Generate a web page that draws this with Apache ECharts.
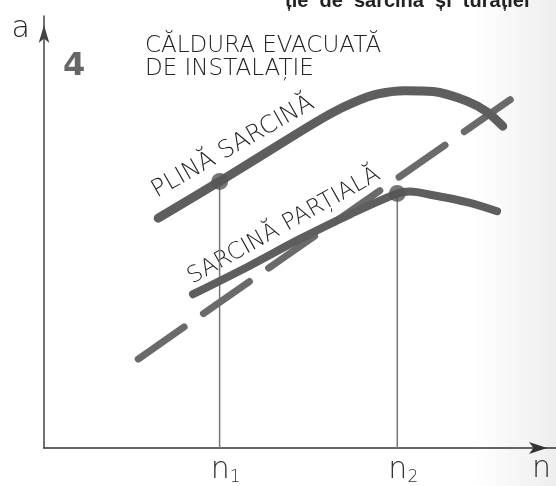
<!DOCTYPE html>
<html>
<head>
<meta charset="utf-8">
<script src="https://cdn.jsdelivr.net/npm/echarts@6/dist/echarts.min.js"></script>
<style>
  html, body { margin: 0; padding: 0; background: #fff; }
  #chart { width: 556px; height: 486px; }
</style>
</head>
<body>
<div id="chart"></div>
<script>
// curbele (unitati arbitrare 0..100)
const fullX = [22.3, 34.3, 50.0, 56.0, 60.5, 65.0, 70.5, 76.0, 82.6, 86.5, 89.6];
const fullY = [53.2, 61.7, 73.2, 77.4, 80.0, 81.9, 82.7, 82.5, 80.3, 77.8, 74.5];
const partX = [29.1, 40.2, 50.0, 59.8, 69.0, 71.5, 76.0, 82.6, 88.5];
const partY = [35.6, 42.2, 48.4, 54.1, 58.9, 59.4, 58.5, 56.9, 54.8];
const heatX = [18.4, 92.0];
const heatY = [20.6, 81.4];
const nTicks = [34.3, 69.0];     // n1, n2
const nSubs = ['1', '2'];
const markY = [61.7, 58.9];      // punctele de pe curbe

const LINE = '#5e5e5e';
const FONT = '"DejaVu Sans", sans-serif';

function pairs(xs, ys) {
  return xs.map((x, i) => [x, ys[i]]);
}

let chart = echarts.init(document.getElementById('chart'));

let guides = nTicks.map((x, i) => ({
  type: 'line',
  data: [[x, 0], [x, markY[i]]],
  symbol: 'none',
  lineStyle: { color: '#777', width: 1.5 },
  z: 1
}));

let option = {
  animation: false,
  backgroundColor: {
    type: 'linear', x: 0, y: 0, x2: 1, y2: 0,
    colorStops: [
      { offset: 0, color: '#ffffff' },
      { offset: 0.85, color: '#ffffff' },
      { offset: 1, color: '#eeeeee' }
    ]
  },
  title: [
    {
      text: 'ție  de  sarcină  și  turației',
      left: 280, top: -14,
      textStyle: { fontFamily: '"Liberation Sans"', fontWeight: 'bold', fontSize: 20, color: '#222' }
    },
    {
      text: 'CĂLDURA EVACUATĂ\nDE INSTALAȚIE',
      left: 140, top: 30,
      textStyle: { fontFamily: FONT, fontWeight: 200, fontSize: 23, lineHeight: 23, color: '#222' }
    },
    {
      text: '4',
      left: 58, top: 46,
      textStyle: { fontFamily: FONT, fontWeight: 'bold', fontSize: 32, color: '#666' }
    }
  ],
  grid: { left: 44, right: 0, top: 16, bottom: 34 },
  xAxis: {
    type: 'value', min: 0, max: 100,
    name: 'n', nameLocation: 'end', nameGap: -24,
    nameTextStyle: { fontFamily: FONT, fontWeight: 200, fontSize: 30, color: '#333', verticalAlign: 'top', padding: [6, 0, 0, 0] },
    axisLine: { lineStyle: { color: '#333', width: 1.5 }, symbol: ['none', 'arrow'], symbolSize: [9, 18], symbolOffset: [0, -9] },
    axisTick: { show: false },
    splitLine: { show: false },
    axisLabel: {
      customValues: nTicks,
      margin: 7,
      padding: [0, 0, 0, 12],
      formatter: (v) => 'n{s|' + nSubs[nTicks.indexOf(v)] + '}',
      fontFamily: FONT, fontWeight: 200, fontSize: 30, color: '#333',
      rich: { s: { fontFamily: FONT, fontWeight: 200, fontSize: 17, color: '#333', padding: [14, 0, 0, 0] } }
    }
  },
  yAxis: {
    type: 'value', min: 0, max: 100,
    name: 'a', nameLocation: 'end', nameGap: -28,
    nameTextStyle: { fontFamily: FONT, fontWeight: 200, fontSize: 30, color: '#222', align: 'right', padding: [0, 14, 0, 0] },
    axisLine: { show: true, lineStyle: { color: '#444', width: 1.5 }, symbol: ['none', 'arrow'], symbolSize: [8, 18], symbolOffset: [0, -9] },
    axisTick: { show: false },
    axisLabel: { show: false },
    splitLine: { show: false }
  },
  graphic: [
    {
      type: 'text', x: 233, y: 147, rotation: 0.52,
      style: { text: 'PLINĂ SARCINĂ', fontFamily: FONT, fontWeight: 200, fontSize: 24, fill: '#222', align: 'center', verticalAlign: 'middle' }
    },
    {
      type: 'text', x: 284, y: 226, rotation: 0.51,
      style: { text: 'SARCINĂ PARȚIALĂ', fontFamily: FONT, fontWeight: 200, fontSize: 23, fill: '#222', align: 'center', verticalAlign: 'middle' }
    }
  ],
  series: guides.concat([
    {
      name: 'plină sarcină', type: 'line', smooth: 0.3,
      data: pairs(fullX, fullY), symbol: 'none',
      lineStyle: { color: LINE, width: 9, cap: 'round' }, z: 3
    },
    {
      name: 'sarcină parțială', type: 'line', smooth: 0.35,
      data: pairs(partX, partY), symbol: 'none',
      lineStyle: { color: LINE, width: 8, cap: 'round' }, z: 3
    },
    {
      name: 'căldura evacuată', type: 'line',
      data: pairs(heatX, heatY), symbol: 'none',
      lineStyle: { color: '#6a6a6a', width: 7, type: [56, 23.5], cap: 'round' }, z: 2
    },
    {
      type: 'scatter', data: pairs(nTicks, markY),
      symbolSize: 17, itemStyle: { color: '#555' }, z: 4
    }
  ])
};

chart.setOption(option);
</script>
</body>
</html>
